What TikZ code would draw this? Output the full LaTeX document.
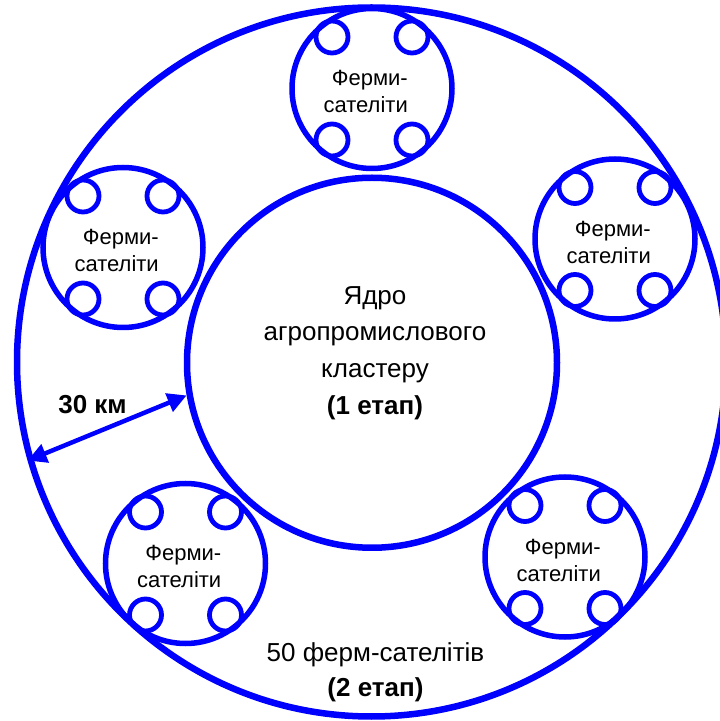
\documentclass[tikz,border=0pt]{standalone}
\usepackage{fontspec}
\setmainfont{Liberation Sans}
\usetikzlibrary{arrows.meta}
\definecolor{cblue}{RGB}{0,0,255}
\tikzset{
  bigring/.style={circle, draw=cblue, line width=6.5pt, inner sep=0pt, minimum size=#1},
  satring/.style={circle, draw=cblue, line width=5.5pt, inner sep=0pt, minimum size=160pt},
  farm/.style={circle, draw=cblue, line width=4.8pt, inner sep=0pt, minimum size=32pt},
  sattext/.style={align=right, inner sep=0pt, font=\fontsize{22}{27}\selectfont},
  maintext/.style={align=center, inner sep=0pt, font=\fontsize{26}{36.7}\selectfont},
  ringtext/.style={align=center, inner sep=0pt, font=\fontsize{26}{35}\selectfont},
  dimarrow/.style={draw=cblue, line width=4.5pt, {Triangle[length=19pt,width=19pt]}-{Triangle[length=19pt,width=19pt]}}
}
\begin{document}
\begin{tikzpicture}[x=1pt,y=1pt]
\useasboundingbox (0,0) rectangle (720,721);
\node[bigring=709pt] (outer) at (371.5,359) {};
\node[bigring=370pt] (inner) at (372,358.25) {};
\foreach \n/\x/\y in {t/372/632.5, r/615/482, l/123/473.5, bl/185.5/157.5, br/565/164} {
  \node[satring] (sat\n) at (\x,\y) {};
  \node[farm] (sat\n-a) at ([shift={(-40,51.5)}]sat\n.center) {};
  \node[farm] (sat\n-b) at ([shift={(40,51.5)}]sat\n.center) {};
  \node[farm] (sat\n-c) at ([shift={(-40,-51.5)}]sat\n.center) {};
  \node[farm] (sat\n-d) at ([shift={(40,-51.5)}]sat\n.center) {};
  \node[sattext, anchor=east] (sat\n-txt) at ([shift={(36,-3)}]sat\n.center) {Ферми-\\сателіти};
}
\node[maintext] (core) at (375,368) {Ядро\\агропромислового\\кластеру\\\textbf{(1 етап)}};
\node[ringtext] (ring) at (375.5,49) {50 ферм-сателітів\\\textbf{(2 етап)}};
\node[font=\fontsize{26}{30}\selectfont\bfseries, inner sep=0pt] (km) at (92.5,316) {30 км};
\draw[dimarrow] (outer.196.2) -- (inner.190.8);
\end{tikzpicture}
\end{document}
